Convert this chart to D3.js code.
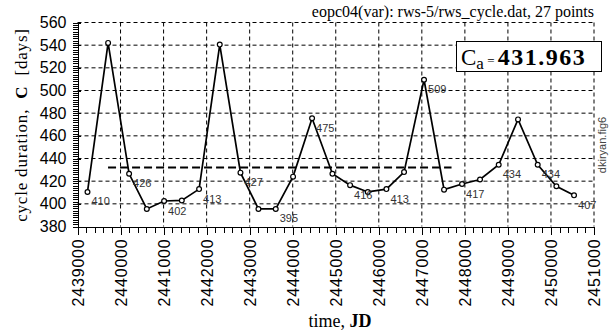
<!DOCTYPE html>
<html>
<head>
<meta charset="utf-8">
<script src="https://cdn.jsdelivr.net/npm/d3@7/dist/d3.min.js"></script>
<style>
body { margin: 0; background: #fff; }
svg { display: block; }
.grid line { stroke: #000; stroke-width: 1; stroke-dasharray: 4,3; }
.axis path, .axis line { stroke: #000; stroke-width: 1; shape-rendering: crispEdges; }
.axis text { font-family: "Liberation Sans", Arial, sans-serif; fill: #000; }
</style>
</head>
<body>
<div id="chart"></div>
<script>
// cycle epochs (JD) and cycle durations
var jd = [2439232, 2439711, 2440199, 2440610, 2441012, 2441423, 2441825, 2442305, 2442786,
          2443204, 2443606, 2444008, 2444450, 2444923, 2445333, 2445744, 2446177, 2446587,
          2447051, 2447516, 2447934, 2448352, 2448786, 2449235, 2449692, 2450126, 2450536];
var cycle = [410.5, 542, 426.5, 395.5, 402.5, 403, 413, 540.5, 427.5,
             395.5, 395.5, 424, 475.5, 426.5, 416.5, 410.5, 413, 428,
             509.5, 412.5, 417.5, 421.5, 434.5, 474.5, 434.5, 415.5, 407.5];
var meanValue = 431.963;
var meanRange = [2439710, 2447690];
var xTicks = d3.range(2439000, 2451001, 1000);
var yTicks = d3.range(380, 561, 20);

var width = 609, height = 334;
var pLeft = 77.5, pRight = 594, pTop = 22.5, pBottom = 226.5;

var svg = d3.select('#chart')
    .append('svg')
    .attr('width', width)
    .attr('height', height);

var x = d3.scaleLinear().domain([2439000, 2451000]).range([pLeft, pRight]);
var y = d3.scaleLinear().domain([380, 560]).range([pBottom, pTop]);

// dashed grid
var grid = svg.append('g').attr('class', 'grid');
grid.selectAll('.vg')
    .data(xTicks.slice(1))
    .enter()
    .append('line')
    .attr('x1', d => x(d)).attr('x2', d => x(d))
    .attr('y1', pTop).attr('y2', pBottom);
grid.selectAll('.hg')
    .data(yTicks.slice(1))
    .enter()
    .append('line')
    .attr('x1', pLeft).attr('x2', pRight)
    .attr('y1', d => y(d)).attr('y2', d => y(d));

// minor ticks
svg.append('g')
    .attr('class', 'axis')
    .attr('transform', 'translate(0,' + pBottom + ')')
    .call(d3.axisBottom(x).tickValues(d3.range(2439000, 2451001, 200)).tickSize(6).tickFormat(''))
    .select('.domain').remove();
svg.append('g')
    .attr('class', 'axis')
    .attr('transform', 'translate(' + pLeft + ',0)')
    .call(d3.axisLeft(y).tickValues(d3.range(380, 561, 2)).tickSize(5).tickFormat(''))
    .select('.domain').remove();

// major axes
var xAxis = svg.append('g')
    .attr('class', 'axis')
    .attr('transform', 'translate(0,' + pBottom + ')')
    .call(d3.axisBottom(x).tickValues(xTicks).tickSize(8).tickSizeOuter(0).tickFormat(d3.format('d')));
xAxis.selectAll('text')
    .attr('transform', 'rotate(-90)')
    .attr('x', -12)
    .attr('y', 0)
    .attr('dy', '0.36em')
    .style('text-anchor', 'end')
    .style('font-size', '16px')
    .style('letter-spacing', '0.8px');

var yAxis = svg.append('g')
    .attr('class', 'axis')
    .attr('transform', 'translate(' + pLeft + ',0)')
    .call(d3.axisLeft(y).tickValues(yTicks).tickSize(9).tickPadding(2).tickSizeOuter(0));
yAxis.selectAll('text')
    .style('font-size', '16px');
yAxis.selectAll('.tick line')
    .attr('x2', 3);

// mean line
svg.append('line')
    .attr('x1', x(meanRange[0])).attr('x2', x(meanRange[1]))
    .attr('y1', y(meanValue)).attr('y2', y(meanValue))
    .style('stroke', '#000')
    .style('stroke-width', 2)
    .style('stroke-dasharray', '8,4');

// data line and points
var pts = jd.map((d, i) => [d, cycle[i]]);
svg.append('path')
    .datum(pts)
    .attr('d', d3.line().x(d => x(d[0])).y(d => y(d[1])))
    .style('fill', 'none')
    .style('stroke', '#000')
    .style('stroke-width', 1.7);

svg.selectAll('.pt')
    .data(pts)
    .enter()
    .append('circle')
    .attr('cx', d => x(d[0]))
    .attr('cy', d => y(d[1]))
    .attr('r', 2.4)
    .style('fill', '#fff')
    .style('stroke', '#000')
    .style('stroke-width', 1.2);

svg.selectAll('.lbl')
    .data(pts.filter((d, i) => i % 2 === 0))
    .enter()
    .append('text')
    .attr('x', d => x(d[0]) + 4)
    .attr('y', d => y(d[1]) + 13.5)
    .text(d => Math.floor(d[1]))
    .style('font-family', '"Liberation Sans", Arial, sans-serif')
    .style('font-size', '11px')
    .style('fill', '#333');

// titles
svg.append('text')
    .attr('x', pRight)
    .attr('y', 17)
    .attr('text-anchor', 'end')
    .style('font-family', '"Liberation Serif", "Times New Roman", serif')
    .style('font-size', '16px')
    .text('eopc04(var): rws-5/rws_cycle.dat, 27 points');

var xt = svg.append('text')
    .attr('x', 340)
    .attr('y', 327)
    .attr('text-anchor', 'middle')
    .style('font-family', '"Liberation Serif", "Times New Roman", serif')
    .style('font-size', '18px');
xt.append('tspan').text('time, ');
xt.append('tspan').style('font-weight', 'bold').text('JD');

var yt = svg.append('text')
    .attr('transform', 'translate(27,125) rotate(-90)')
    .attr('text-anchor', 'middle')
    .style('font-family', '"Liberation Serif", "Times New Roman", serif')
    .style('font-size', '17px')
    .style('letter-spacing', '0.8px')
    .style('white-space', 'pre');
yt.append('tspan').text('cycle duration,  ');
yt.append('tspan').style('font-weight', 'bold').text('C');
yt.append('tspan').text('  [days]');

svg.append('text')
    .attr('transform', 'translate(606,145) rotate(-90)')
    .attr('text-anchor', 'middle')
    .style('font-family', '"Liberation Sans", Arial, sans-serif')
    .style('font-size', '11px')
    .style('fill', '#444')
    .text('dkiryan.fig6');

// mean value box
svg.append('rect')
    .attr('x', 456.5).attr('y', 41.5)
    .attr('width', 145).attr('height', 30)
    .style('fill', '#fff')
    .style('stroke', '#000')
    .style('stroke-width', 1);

var bx = svg.append('text')
    .attr('x', 461)
    .attr('y', 65)
    .style('font-family', '"Liberation Serif", "Times New Roman", serif');
bx.append('tspan').style('font-size', '23px').text('C');
bx.append('tspan').attr('dy', 4).style('font-size', '17px').text('a');
bx.append('tspan').attr('dy', -4).style('font-size', '13px').text(' = ');
bx.append('tspan').style('font-size', '24px').style('font-weight', 'bold').style('letter-spacing', '1.5px')
    .text(d3.format('.3f')(meanValue));
</script>
</body>
</html>
